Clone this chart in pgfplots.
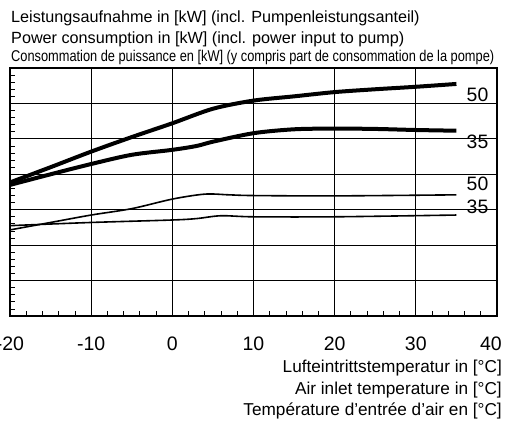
\documentclass[border=0pt]{standalone}
\usepackage{pgfplots}
\pgfplotsset{compat=1.18}
\usepackage{fontspec}
\usepackage{graphicx}
\setmainfont{Liberation Sans}
\begin{document}
\begin{tikzpicture}[x=1bp,y=1bp]
\begin{axis}[
  at={(0,0)}, anchor=south west,
  scale only axis, width=487bp, height=248bp,
  xmin=-20, xmax=40, ymin=0, ymax=7,
  xtick={-20,-10,0,10,20,30,40},
  xticklabels={-20,-10,0,10,20,30,{\hspace*{-12bp}40}},
  ytick={2,3,4,5},
  extra y ticks={1,6},
  extra y tick labels={},
  extra y tick style={grid style={gray!70, line width=1bp}, major tick length=0pt},
  yticklabels={},
  minor x tick num=4,
  minor ytick={0,0.2,...,7},
  xtick pos=bottom, ytick pos=left,
  major tick length=0pt, minor tick length=5bp,
  tick style={black, line width=0.8bp},
  grid=major,
  major grid style={black, line width=0.9bp},
  axis line style={black, line width=1.3bp},
  xticklabel style={font=\fontsize{19.5bp}{22bp}\selectfont, yshift=-17bp},
  clip=false,
]
\addplot[black, line width=4bp, smooth, tension=0.5] coordinates {
(-20,3.77) (-15,4.20) (-10,4.64) (-5,5.05) (0,5.44) (5,5.85) (10,6.08) (15,6.20) (20,6.32) (25,6.40) (30,6.47) (35,6.55)};
\addplot[black, line width=4bp, smooth, tension=0.5] coordinates {
(-20,3.70) (-15,4.00) (-10,4.29) (-5,4.55) (0,4.69) (3,4.80) (5,4.92) (10,5.16) (15,5.27) (20,5.29) (25,5.28) (30,5.25) (35,5.23)};
\addplot[black, line width=1.6bp, smooth, tension=0.5] coordinates {
(-20,2.43) (-15,2.64) (-10,2.85) (-5,3.03) (0,3.30) (4,3.44) (7,3.42) (10,3.40) (20,3.39) (35,3.42)};
\addplot[black, line width=1.6bp, smooth, tension=0.5] coordinates {
(-20,2.55) (-10,2.64) (0,2.71) (3,2.75) (6,2.83) (10,2.80) (20,2.80) (35,2.85)};
\node[anchor=base, inner sep=0pt, font=\fontsize{19.4bp}{22bp}\selectfont] at (axis cs:37.6,6.05) {50};
\node[anchor=base, inner sep=0pt, font=\fontsize{19.4bp}{22bp}\selectfont] at (axis cs:37.6,4.73) {35};
\node[anchor=base, inner sep=0pt, font=\fontsize{19.4bp}{22bp}\selectfont] at (axis cs:37.6,3.54) {50};
\node[anchor=base, inner sep=0pt, font=\fontsize{19.4bp}{22bp}\selectfont] at (axis cs:37.6,2.90) {35};
\end{axis}
\node[anchor=base west, inner sep=0pt, font=\fontsize{16.2bp}{19bp}\selectfont] at (1bp,293.3bp) {Leistungsaufnahme in [kW] (incl. Pumpenleistungsanteil)};
\node[anchor=base west, inner sep=0pt, font=\fontsize{16.2bp}{19bp}\selectfont] at (1bp,272bp) {Power consumption in [kW] (incl. power input to pump)};
\node[anchor=base west, inner sep=0pt] at (1bp,254.7bp) {\resizebox{483bp}{\height}{\fontsize{15.6bp}{18bp}\selectfont Consommation de puissance en [kW] (y compris part de consommation de la pompe)}};
\node[anchor=base east, inner sep=0pt, font=\fontsize{17.2bp}{20bp}\selectfont] at (492bp,-56.7bp) {Lufteintrittstemperatur in [°C]};
\node[anchor=base east, inner sep=0pt, font=\fontsize{17.2bp}{20bp}\selectfont] at (492bp,-78.3bp) {Air inlet temperature in [°C]};
\node[anchor=base east, inner sep=0pt, font=\fontsize{17.2bp}{20bp}\selectfont] at (492bp,-99.3bp) {Température d'entrée d'air en [°C]};
\pgfresetboundingbox
\path (-10bp,-105bp) rectangle (500bp,316bp);
\end{tikzpicture}
\end{document}
